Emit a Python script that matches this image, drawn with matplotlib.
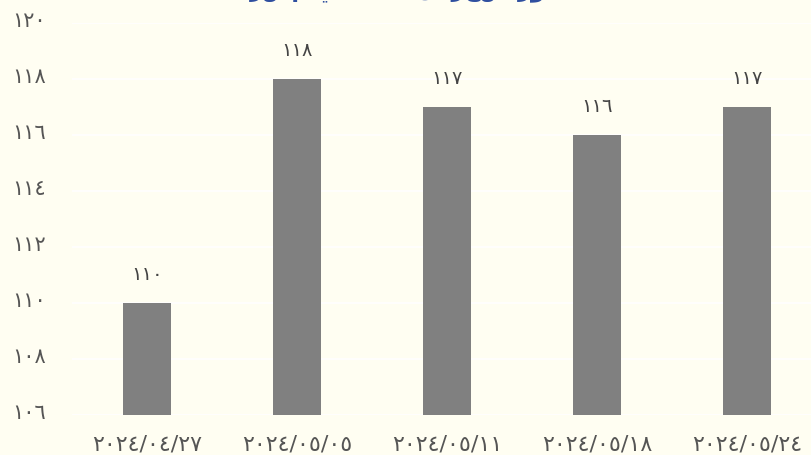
import matplotlib
matplotlib.use("Agg")
import matplotlib.pyplot as plt
import matplotlib.transforms as mtransforms

categories = ["٢٠٢٤/٠٤/٢٧", "٢٠٢٤/٠٥/٠٥", "٢٠٢٤/٠٥/١١", "٢٠٢٤/٠٥/١٨", "٢٠٢٤/٠٥/٢٤"]
values = [110, 118, 117, 116, 117]
value_labels = ["١١٠", "١١٨", "١١٧", "١١٦", "١١٧"]
yticks = [106, 108, 110, 112, 114, 116, 118, 120]
ytick_labels = ["١٠٦", "١٠٨", "١١٠", "١١٢", "١١٤", "١١٦", "١١٨", "١٢٠"]
title = "تطور سعر الذهب في مصر"

bg = "#fffef2"
plt.rcParams['font.family'] = ['DejaVu Sans']

fig = plt.figure(figsize=(8.11, 4.56), dpi=100, facecolor=bg)
ax = fig.add_axes([72/811, 40/456, 750/811, 392/456], facecolor=bg)

x = list(range(len(categories)))
ax.bar(x, values, width=0.32, color="#808080", zorder=3)
ax.set_ylim(106, 120)
ax.set_xlim(-0.5, len(categories) - 0.5)
ax.set_yticks(yticks)
ax.set_yticklabels(ytick_labels)
ax.set_xticks(x)
ax.set_xticklabels(categories)
ax.tick_params(axis='y', length=0, pad=18.5, labelsize=15, labelcolor="#555555")
ax.tick_params(axis='x', length=0, pad=13, labelsize=16, labelcolor="#555555")
shift = mtransforms.ScaledTranslation(0, 5/100, fig.dpi_scale_trans)
for lab in ax.get_yticklabels():
    lab.set_transform(lab.get_transform() + shift)
for s in ax.spines.values():
    s.set_visible(False)
ax.grid(axis='y', color="white", linewidth=1.2, zorder=0)

for xi, v, lab in zip(x, values, value_labels):
    ax.annotate(lab, (xi, v), xytext=(0, 21.5), textcoords="offset points",
                ha="center", va="center", fontsize=14, color="#444444")

fig.text(0.518, 1 + 4/456, title[::-1], ha="center", va="baseline", fontsize=16,
         color="#2f4f9f", fontweight="bold")

fig.savefig("out.png", dpi=100, facecolor=bg)
